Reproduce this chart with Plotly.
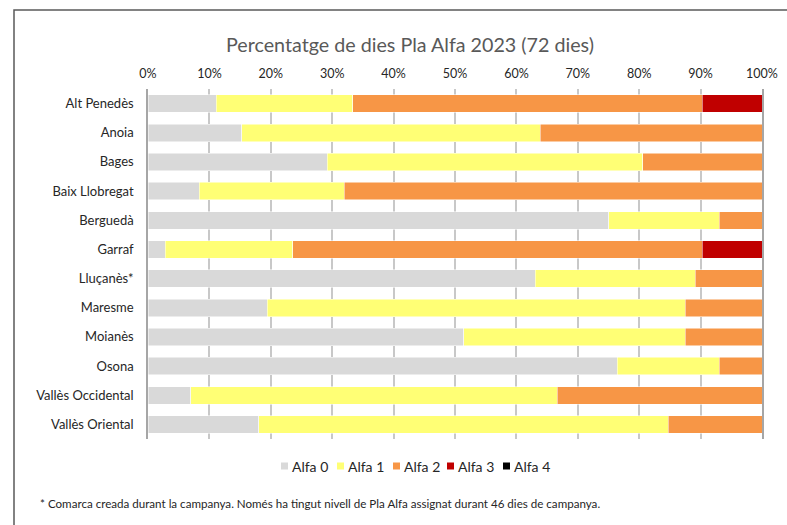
import plotly.graph_objects as go

comarques = ["Alt Penedès", "Anoia", "Bages", "Baix Llobregat", "Berguedà", "Garraf",
             "Lluçanès*", "Maresme", "Moianès", "Osona", "Vallès Occidental", "Vallès Oriental"]
# days at each level
alfa0 = [8, 11, 21, 6, 54, 2, 29, 14, 37, 55, 5, 13]
alfa1 = [16, 35, 37, 17, 13, 15, 12, 49, 26, 12, 43, 48]
alfa2 = [41, 26, 14, 49, 5, 48, 5, 9, 9, 5, 24, 11]
alfa3 = [7, 0, 0, 0, 0, 7, 0, 0, 0, 0, 0, 0]
alfa4 = [0, 0, 0, 0, 0, 0, 0, 0, 0, 0, 0, 0]
series_names = ["Alfa 0", "Alfa 1", "Alfa 2", "Alfa 3", "Alfa 4"]
colors = ["#D9D9D9", "#FFFF75", "#F79646", "#C00000", "#000000"]
tick_vals = [0, 10, 20, 30, 40, 50, 60, 70, 80, 90, 100]
tick_text = [f"{v}%" for v in tick_vals]
footnote = "* Comarca creada durant la campanya. Només ha tingut nivell de Pla Alfa assignat durant 46 dies de campanya."

FONT = "Lato"
TXT = "#262626"
W, H = 787, 525
L, R, T, B = 148, 25, 89, 86
pw, ph = W - L - R, H - T - B


def px(x):
    return (x - L) / pw


def py(y):
    return (H - B - y) / ph


fig = go.Figure()
for name, vals, col in zip(series_names, [alfa0, alfa1, alfa2, alfa3, alfa4], colors):
    fig.add_trace(go.Bar(
        y=comarques, x=vals, name=name, orientation="h",
        marker=dict(color=col, line=dict(color="white", width=0.5)),
        showlegend=False,
    ))

fig.update_layout(
    width=W, height=H,
    margin=dict(l=L, r=R, t=T, b=B, autoexpand=False),
    barmode="stack", barnorm="percent", bargap=0.4,
    plot_bgcolor="white", paper_bgcolor="white",
    font=dict(family=FONT, size=12, color=TXT),
    title=dict(text="Percentatge de dies Pla Alfa 2023 (72 dies)",
               x=410 / W, xref="container", xanchor="center",
               y=1 - 45 / H, yref="container", yanchor="middle",
               font=dict(family=FONT, size=19.7, color="#595959")),
    xaxis=dict(side="top", range=[0, 100], tickvals=tick_vals, ticktext=tick_text,
               showgrid=True, gridcolor="#C8C8C8", gridwidth=1.5, zeroline=False,
               showline=False, ticks="", ticklabelstandoff=8,
               tickfont=dict(size=12.5, color=TXT)),
    yaxis=dict(autorange="reversed", showgrid=False, showline=True, mirror=True,
               linecolor="#A6A6A6", linewidth=1.5, ticks="", ticklabelstandoff=10,
               tickfont=dict(size=13, color=TXT)),
    showlegend=False,
)

# manual legend
leg_left = [281, 337, 393, 447, 503]
for name, col, x0 in zip(series_names, colors, leg_left):
    fig.add_shape(type="rect", xref="paper", yref="paper",
                  x0=px(x0), x1=px(x0 + 7), y0=py(469.5), y1=py(462.5),
                  fillcolor=col, line=dict(width=0))
    fig.add_annotation(text=name, xref="paper", yref="paper",
                       x=px(x0 + 9), y=py(466), xanchor="left", yanchor="middle",
                       showarrow=False, font=dict(family=FONT, size=14, color=TXT))

fig.add_annotation(
    text=footnote,
    xref="paper", yref="paper", x=px(38), y=py(503),
    xanchor="left", yanchor="middle", showarrow=False,
    font=dict(family=FONT, size=11.6, color=TXT),
)

# outer frame (top and left edges visible)
fig.add_shape(type="rect", xref="paper", yref="paper",
              x0=px(14), x1=px(W + 10), y0=py(H + 10), y1=py(10),
              line=dict(color="#595959", width=1.5), layer="below")

fig.write_html("out.html", config={"displayModeBar": False},
               post_script="document.body.style.margin='0';")
